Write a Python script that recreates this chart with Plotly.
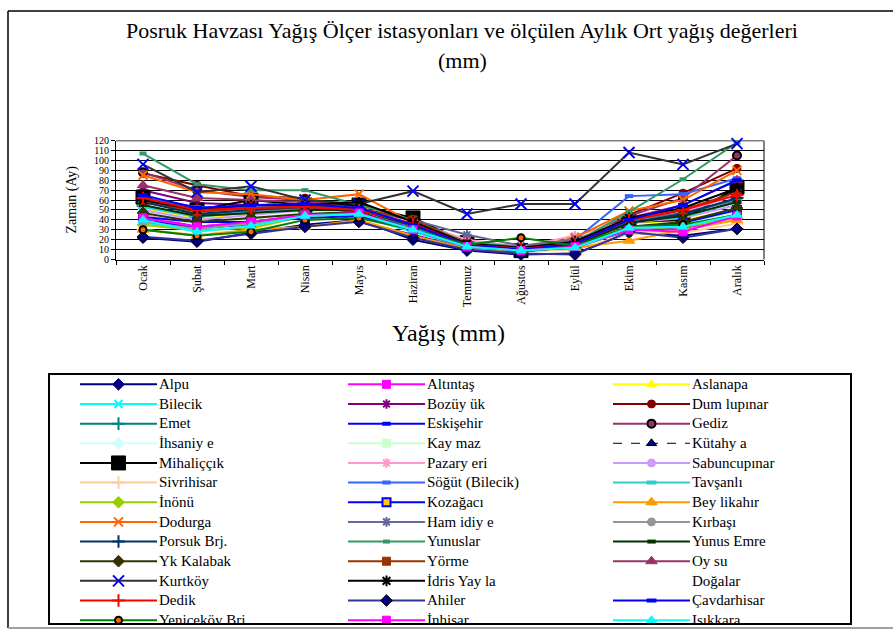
import plotly.graph_objects as go

W, H = 893, 635

months = ["Ocak", "Şubat", "Mart", "Nisan", "Mayıs", "Haziran",
          "Temmuz", "Ağustos", "Eylül", "Ekim", "Kasım", "Aralık"]
y_tick_vals = list(range(0, 121, 10))

# Monthly mean precipitation (mm), Ocak..Aralık
alpu = [22, 18, 27, 35, 40, 20, 9, 5, 6, 27, 24, 31]
altintas = [45, 33, 38, 45, 48, 30, 13, 10, 12, 32, 30, 46]
aslanapa = [52, 41, 47, 50, 53, 33, 15, 12, 14, 36, 40, 50]
bilecik = [37, 30, 37, 45, 44, 28, 12, 9, 12, 30, 34, 46]
bozuyuk = [70, 57, 55, 55, 38, 25, 11, 8, 15, 36, 46, 70]
dumlupinar = [87, 75, 64, 62, 50, 32, 14, 10, 16, 45, 67, 92]
emet = [54, 44, 47, 52, 49, 33, 14, 11, 15, 38, 45, 62]
eskisehir = [40, 32, 35, 45, 46, 30, 13, 9, 13, 29, 33, 45]
gediz = [88, 70, 63, 60, 52, 34, 16, 12, 17, 44, 62, 105]
ihsaniye = [48, 37, 42, 48, 50, 32, 14, 10, 13, 33, 37, 52]
kaymaz = [44, 36, 40, 48, 50, 35, 15, 12, 14, 32, 36, 48]
kutahya = [64, 50, 55, 56, 52, 32, 14, 10, 15, 38, 50, 68]
mihaliccik = [63, 50, 60, 55, 55, 42, 17, 9, 16, 38, 40, 73]
pazaryeri = [58, 47, 50, 52, 50, 38, 20, 13, 24, 40, 48, 65]
sabuncupinar = [50, 40, 45, 50, 50, 35, 16, 12, 15, 37, 42, 55]
sivrihisar = [30, 25, 30, 45, 45, 30, 12, 8, 10, 26, 27, 36]
sogut = [62, 53, 53, 55, 47, 33, 14, 10, 20, 64, 66, 82]
tavsanli = [53, 43, 48, 50, 50, 34, 15, 11, 15, 38, 43, 58]
inonu = [35, 29, 32, 44, 46, 30, 13, 9, 12, 30, 33, 42]
kozagaci = [43, 38, 38, 42, 44, 30, 12, 8, 13, 32, 37, 50]
beylikahir = [30, 24, 30, 33, 40, 24, 11, 9, 12, 19, 30, 40]
dodurga = [85, 68, 66, 60, 66, 37, 15, 10, 22, 49, 60, 90]
hamidiye = [60, 45, 50, 52, 50, 40, 25, 14, 20, 40, 47, 60]
kirbasi = [38, 31, 36, 44, 46, 30, 12, 9, 12, 30, 34, 45]
porsuk = [58, 46, 50, 53, 50, 36, 15, 11, 15, 37, 46, 62]
yunuslar = [107, 76, 70, 70, 55, 40, 17, 13, 17, 48, 81, 118]
yunus_emre = [55, 44, 47, 50, 50, 34, 15, 11, 15, 37, 44, 58]
yk_kalabak = [47, 38, 42, 46, 48, 30, 13, 9, 12, 33, 38, 52]
yorme = [60, 48, 52, 54, 52, 40, 16, 11, 16, 40, 50, 68]
oysu = [75, 62, 60, 58, 52, 35, 15, 11, 16, 42, 55, 80]
kurtkoy = [96, 68, 74, 60, 56, 69, 46, 56, 56, 108, 96, 117]
idris = [60, 50, 55, 55, 58, 38, 16, 12, 18, 42, 52, 72]
dogalar = [None] * 12
dedik = [62, 50, 52, 53, 50, 36, 15, 11, 16, 40, 50, 65]
ahiler = [23, 19, 26, 33, 38, 22, 10, 6, 5, 28, 22, 31]
cavdarhisar = [65, 52, 55, 56, 52, 35, 15, 10, 16, 40, 55, 80]
yenikoy = [30, 24, 28, 40, 42, 30, 15, 22, 14, 33, 35, 45]
inhisar = [42, 33, 38, 45, 47, 30, 13, 9, 13, 30, 28, 44]
isikkara = [40, 28, 34, 44, 46, 30, 13, 9, 12, 32, 33, 45]

stations = ["Alpu", "Altıntaş", "Aslanapa", "Bilecik", "Bozüy ük", "Dum lupınar",
            "Emet", "Eskişehir", "Gediz", "İhsaniy e", "Kay maz", "Kütahy a",
            "Mihaliççık", "Pazary eri", "Sabuncupınar", "Sivrihisar", "Söğüt (Bilecik)", "Tavşanlı",
            "İnönü", "Kozağacı", "Bey likahır", "Dodurga", "Ham idiy e", "Kırbaşı",
            "Porsuk Brj.", "Yunuslar", "Yunus Emre", "Yk Kalabak", "Yörme", "Oy su",
            "Kurtköy", "İdris Yay la", "Doğalar", "Dedik", "Ahiler", "Çavdarhisar",
            "Yeniceköy Brj", "İnhisar", "Işıkkara"]
series = [alpu, altintas, aslanapa, bilecik, bozuyuk, dumlupinar,
          emet, eskisehir, gediz, ihsaniye, kaymaz, kutahya,
          mihaliccik, pazaryeri, sabuncupinar, sivrihisar, sogut, tavsanli,
          inonu, kozagaci, beylikahir, dodurga, hamidiye, kirbasi,
          porsuk, yunuslar, yunus_emre, yk_kalabak, yorme, oysu,
          kurtkoy, idris, dogalar, dedik, ahiler, cavdarhisar,
          yenikoy, inhisar, isikkara]

# style: line colour, dash, symbol, fill, edge colour, size, edge width
styles = [
    ("#000080", "solid", "diamond", "#000080", "#000080", 9, 1),
    ("#FF00FF", "solid", "square", "#FF00FF", "#FF00FF", 8, 1),
    ("#FFFF00", "solid", "triangle-up", "#FFFF00", "#FFFF00", 9, 1),
    ("#00FFFF", "solid", "x-thin-open", "#00FFFF", "#00FFFF", 8, 2),
    ("#800080", "solid", "asterisk-open", "#800080", "#800080", 8, 2),
    ("#800000", "solid", "circle", "#800000", "#800000", 8, 1),
    ("#008080", "solid", "cross-thin-open", "#008080", "#008080", 9, 2),
    ("#0000FF", "solid", "line-ew-open", "#0000FF", "#0000FF", 6, 4),
    ("#993366", "solid", "circle", "#993366", "#000000", 8, 2),
    ("#CCFFFF", "solid", "diamond", "#CCFFFF", "#CCFFFF", 9, 1),
    ("#CCFFCC", "solid", "square", "#CCFFCC", "#CCFFCC", 8, 1),
    ("#000000", "dash", "triangle-up", "#000080", "#000000", 9, 1),
    ("#000000", "solid", "square", "#000000", "#000000", 14, 1),
    ("#FF99CC", "solid", "asterisk-open", "#FF99CC", "#FF99CC", 8, 2),
    ("#CC99FF", "solid", "circle", "#CC99FF", "#CC99FF", 8, 1),
    ("#FFCC99", "solid", "cross-thin-open", "#FFCC99", "#FFCC99", 9, 2),
    ("#3366FF", "solid", "line-ew-open", "#3366FF", "#3366FF", 6, 4),
    ("#33CCCC", "solid", "line-ew-open", "#33CCCC", "#33CCCC", 7, 4),
    ("#99CC00", "solid", "diamond", "#99CC00", "#99CC00", 9, 1),
    ("#0000FF", "solid", "square", "#FFCC00", "#0000FF", 8, 2),
    ("#FF9900", "solid", "triangle-up", "#FF9900", "#FF9900", 10, 1),
    ("#FF6600", "solid", "x-thin-open", "#FF6600", "#FF6600", 9, 2),
    ("#666699", "solid", "asterisk-open", "#666699", "#666699", 8, 2),
    ("#969696", "solid", "circle", "#969696", "#969696", 8, 1),
    ("#003366", "solid", "cross-thin-open", "#003366", "#003366", 9, 2),
    ("#339966", "solid", "line-ew-open", "#339966", "#339966", 5, 4),
    ("#003300", "solid", "line-ew-open", "#003300", "#003300", 6, 4),
    ("#333300", "solid", "diamond", "#333300", "#333300", 9, 1),
    ("#993300", "solid", "square", "#993300", "#993300", 8, 1),
    ("#993366", "solid", "triangle-up", "#993366", "#993366", 10, 1),
    ("#333333", "solid", "x-thin-open", "#0000FF", "#0000FF", 11, 2),
    ("#000000", "solid", "asterisk-open", "#000000", "#000000", 9, 2),
    (None, "solid", "circle", "#FFFFFF", "#FFFFFF", 0, 0),
    ("#FF0000", "solid", "cross-thin-open", "#FF0000", "#FF0000", 9, 2),
    ("#333399", "solid", "diamond", "#000080", "#000000", 9, 1),
    ("#0000FF", "solid", "line-ew-open", "#0000FF", "#0000FF", 7, 4),
    ("#008000", "solid", "circle", "#FF6600", "#000000", 7, 2),
    ("#FF00FF", "solid", "square", "#FF00FF", "#FF00FF", 8, 1),
    ("#00FFFF", "solid", "triangle-up", "#00FFFF", "#00FFFF", 9, 1),
]

SERIF = "Liberation Serif, Times New Roman, serif"

fig = go.Figure()

# ---- main chart ----
for name, vals, st in zip(stations, series, styles):
    lc, dash, sym, fill, edge, size, ew = st
    if lc is None:
        continue
    fig.add_trace(go.Scatter(
        x=months, y=vals, mode="lines+markers", name=name, showlegend=False,
        line=dict(color=lc, width=2, dash=dash),
        marker=dict(symbol=sym, color=fill, size=size,
                    line=dict(color=edge, width=ew)),
        xaxis="x", yaxis="y", cliponaxis=False))

# ---- custom legend (3 columns, rows in reading order) ----
col_start = [30, 298, 563]
seg_len = 77
row_h = 20
for i, (name, st) in enumerate(zip(stations, styles)):
    r, c = divmod(i, 3)
    x0 = col_start[c]
    yy = 10 + row_h * r
    lc, dash, sym, fill, edge, size, ew = st
    if lc is not None:
        fig.add_trace(go.Scatter(
            x=[x0, x0 + seg_len], y=[yy, yy], mode="lines", showlegend=False,
            line=dict(color=lc, width=2 if dash == "solid" else 1, dash=dash),
            xaxis="x2", yaxis="y2", hoverinfo="skip"))
        fig.add_trace(go.Scatter(
            x=[x0 + seg_len / 2], y=[yy], mode="markers", showlegend=False,
            marker=dict(symbol=sym, color=fill, size=size,
                        line=dict(color=edge, width=ew)),
            xaxis="x2", yaxis="y2", hoverinfo="skip"))
    fig.add_trace(go.Scatter(
        x=[x0 + seg_len + 2], y=[yy + 1], mode="text", text=[name],
        textposition="middle right", showlegend=False,
        textfont=dict(family=SERIF, size=15, color="black"),
        xaxis="x2", yaxis="y2", hoverinfo="skip"))

px = lambda v: v / W
py = lambda v: 1 - v / H

fig.update_layout(
    width=W, height=H,
    margin=dict(l=0, r=0, t=0, b=0),
    paper_bgcolor="white", plot_bgcolor="white",
    font=dict(family=SERIF, color="black"),
    showlegend=False,
    xaxis=dict(
        domain=[px(116), px(764)], anchor="y",
        type="category", categoryarray=months, categoryorder="array",
        range=[-0.5, 11.5], tickson="boundaries",
        ticks="outside", ticklen=4, tickcolor="black",
        tickangle=-90, tickfont=dict(family=SERIF, size=12),
        showline=True, linecolor="black", linewidth=1,
        showgrid=False, zeroline=False),
    yaxis=dict(
        domain=[py(258), py(137)], anchor="x",
        range=[0, 120], tickvals=y_tick_vals,
        ticks="outside", ticklen=4, tickcolor="black",
        tickfont=dict(family=SERIF, size=10),
        showline=True, linecolor="black", linewidth=1,
        showgrid=True, gridcolor="black", gridwidth=1, zeroline=False),
    xaxis2=dict(
        domain=[px(50), px(850)], anchor="y2", range=[0, 800],
        showline=True, mirror=True, linecolor="black", linewidth=1.5,
        showgrid=False, zeroline=False, showticklabels=False, ticks=""),
    yaxis2=dict(
        domain=[py(628), py(375)], anchor="x2", range=[253, 0],
        showline=True, mirror=True, linecolor="black", linewidth=1.5,
        showgrid=False, zeroline=False, showticklabels=False, ticks=""),
    shapes=[
        # grey plot-area frame (top & right)
        dict(type="line", xref="paper", yref="paper",
             x0=px(116), x1=px(764), y0=py(137), y1=py(137),
             line=dict(color="#808080", width=1.5), layer="below"),
        dict(type="line", xref="paper", yref="paper",
             x0=px(764), x1=px(764), y0=py(258), y1=py(137),
             line=dict(color="#808080", width=2), layer="below"),
        # outer chart frame
        dict(type="line", xref="paper", yref="paper",
             x0=px(8), x1=1, y0=py(5), y1=py(5),
             line=dict(color="black", width=1.5)),
        dict(type="line", xref="paper", yref="paper",
             x0=px(8), x1=px(8), y0=py(633), y1=py(5),
             line=dict(color="black", width=1.5)),
        dict(type="line", xref="paper", yref="paper",
             x0=px(8), x1=1, y0=py(633), y1=py(633),
             line=dict(color="#A0A0A0", width=2)),
    ],
    annotations=[
        dict(text="Posruk Havzası Yağış Ölçer istasyonları ve ölçülen Aylık Ort yağış değerleri",
             x=px(462), y=py(25), xref="paper", yref="paper",
             xanchor="center", yanchor="middle",
             showarrow=False, font=dict(family=SERIF, size=22)),
        dict(text="(mm)", x=px(462), y=py(55), xref="paper", yref="paper",
             xanchor="center", yanchor="middle",
             showarrow=False, font=dict(family=SERIF, size=22)),
        dict(text="Zaman (Ay)", x=px(72), y=py(197), xref="paper", yref="paper",
             xanchor="center", yanchor="middle",
             textangle=-90, showarrow=False, font=dict(family=SERIF, size=14)),
        dict(text="Yağış (mm)", x=px(448), y=py(333), xref="paper", yref="paper",
             xanchor="center", yanchor="middle",
             showarrow=False, font=dict(family=SERIF, size=24)),
    ],
)

fig.write_html("out.html", config={"displayModeBar": False},
               post_script="document.body.style.margin='0';document.body.style.overflow='hidden';")
